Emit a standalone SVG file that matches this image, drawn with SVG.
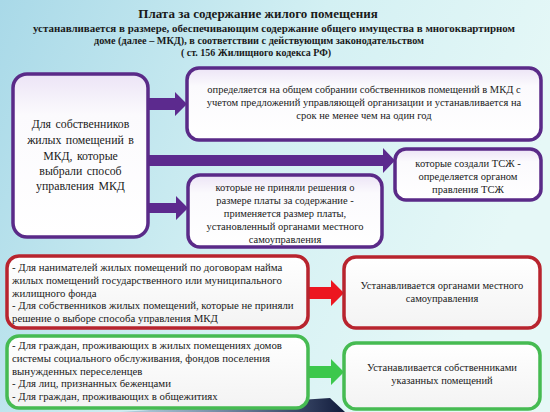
<svg xmlns="http://www.w3.org/2000/svg" width="550" height="412" viewBox="0 0 550 412" font-family="'Liberation Serif', 'Times New Roman', serif">
<defs>
<linearGradient id="bg" x1="0" y1="0" x2="1" y2="0.3">
<stop offset="0" stop-color="#a9d9e8"/>
<stop offset="0.55" stop-color="#d3f0f3"/>
<stop offset="1" stop-color="#e6f8f7"/>
</linearGradient>
<linearGradient id="pfill" x1="0" y1="0" x2="0" y2="1">
<stop offset="0" stop-color="#ece4f6"/>
<stop offset="0.25" stop-color="#fbfafd"/>
<stop offset="1" stop-color="#ffffff"/>
</linearGradient>
<linearGradient id="wfill" x1="0" y1="0" x2="0" y2="1">
<stop offset="0" stop-color="#ffffff"/>
<stop offset="1" stop-color="#f3f3f3"/>
</linearGradient>
<linearGradient id="bot" x1="0" y1="0" x2="1" y2="0">
<stop offset="0" stop-color="#2a3f7a" stop-opacity="0.15"/>
<stop offset="1" stop-color="#101a3a"/>
</linearGradient>
</defs>
<style>
.pbox{fill:url(#pfill);stroke:#5a2a88;stroke-width:3.5}
.rbox{fill:url(#wfill);stroke:#b8242e;stroke-width:3.5}
.gbox{fill:url(#wfill);stroke:#46bb52;stroke-width:3.5}
.t{font-family:'Liberation Serif','Times New Roman',serif;fill:#1a1a1a}
.hd{font-weight:bold;font-size:10px;text-anchor:middle}
.ttl{font-weight:bold;font-size:13px;text-anchor:middle}
.big{font-size:11.8px;text-anchor:middle;word-spacing:1.5px}
.c{font-size:10.5px;text-anchor:middle}
.l{font-size:10.8px}
</style>
<rect x="0" y="0" width="550" height="412" fill="url(#bg)"/>
<polygon points="120,412 330,398 345,412" fill="url(#bot)"/>

<g id="header" class="t">
<text class="ttl" x="258" y="18">Плата за содержание жилого помещения</text>
<text class="hd" x="274" y="32" textLength="482" lengthAdjust="spacingAndGlyphs">устанавливается в размере, обеспечивающим содержание общего имущества в многоквартирном</text>
<text class="hd" x="259" y="44" textLength="330" lengthAdjust="spacingAndGlyphs">доме (далее – МКД), в соответствии с действующим законодательством</text>
<text class="hd" x="256" y="56">( ст. 156 Жилищного кодекса РФ)</text>
</g>

<g id="connectors">
<polygon points="148,98 175,98 175,92 187,104 175,116 175,110 148,110" fill="#5c2a8e"/>
<polygon points="148,155 383,155 383,148 395,160.5 383,173 383,166 148,166" fill="#5c2a8e"/>
<polygon points="148,203 176,203 176,196 188,208 176,220 176,213 148,213" fill="#5c2a8e"/>
<polygon points="308,287 331,287 331,280 344,293 331,306 331,299 308,299" fill="#ec1620"/>
<polygon points="308,366 331,366 331,359 344,372 331,385 331,378 308,378" fill="#3cc84c"/>
</g>

<g id="n-owners" class="t">
<rect class="pbox" x="13" y="74" width="135" height="163" rx="14"/>
<text class="big" x="80.5" y="128">Для собственников</text>
<text class="big" x="80.5" y="144">жилых помещений в</text>
<text class="big" x="80.5" y="160">МКД, которые</text>
<text class="big" x="80.5" y="175">выбрали способ</text>
<text class="big" x="80.5" y="190">управления МКД</text>
</g>

<g id="n-meeting" class="t">
<rect class="pbox" x="187" y="68" width="354" height="72" rx="12"/>
<text class="c" x="364" y="93">определяется на общем собрании собственников помещений в МКД с</text>
<text class="c" x="364" y="106">учетом предложений управляющей организации и устанавливается на</text>
<text class="c" x="364" y="119">срок не менее чем на один год</text>
</g>

<g id="n-tszh" class="t">
<rect class="pbox" x="395" y="149" width="146" height="51" rx="11"/>
<text class="c" x="468" y="167">которые создали ТСЖ -</text>
<text class="c" x="468" y="180">определяется органом</text>
<text class="c" x="468" y="193">правления ТСЖ</text>
</g>

<g id="n-notdecided" class="t">
<rect class="pbox" x="188" y="175" width="194" height="72" rx="12"/>
<text class="c" x="285" y="191">которые не приняли решения о</text>
<text class="c" x="285" y="204">размере платы за содержание  -</text>
<text class="c" x="285" y="217">применяется размер платы,</text>
<text class="c" x="285" y="230">установленный органами местного</text>
<text class="c" x="285" y="243">самоуправления</text>
</g>

<g id="n-tenants" class="t">
<rect class="rbox" x="7" y="256" width="301" height="72" rx="12"/>
<text class="l" x="12" y="271">- Для нанимателей жилых помещений по договорам найма</text>
<text class="l" x="12" y="284">жилых помещений государственного или муниципального</text>
<text class="l" x="12" y="297">жилищного фонда</text>
<text class="l" x="12" y="309">- Для собственников жилых помещений, которые не приняли</text>
<text class="l" x="12" y="322">решение о выборе способа управления МКД</text>
</g>

<g id="n-local" class="t">
<rect class="rbox" x="344" y="257" width="196" height="71" rx="12"/>
<text class="c" x="442" y="289">Устанавливается органами местного</text>
<text class="c" x="442" y="302">самоуправления</text>
</g>

<g id="n-citizens" class="t">
<rect class="gbox" x="7" y="336" width="301" height="72" rx="12"/>
<text class="l" x="12" y="349">- Для граждан, проживающих в жилых помещениях домов</text>
<text class="l" x="12" y="362">системы социального обслуживания, фондов поселения</text>
<text class="l" x="12" y="375">вынужденных переселенцев</text>
<text class="l" x="12" y="387">- Для лиц, признанных беженцами</text>
<text class="l" x="12" y="400">- Для граждан, проживающих в общежитиях</text>
</g>

<g id="n-ownersset" class="t">
<rect class="gbox" x="344" y="343" width="196" height="66" rx="12"/>
<text class="c" x="442" y="371">Устанавливается собственниками</text>
<text class="c" x="442" y="384">указанных помещений</text>
</g>
</svg>
